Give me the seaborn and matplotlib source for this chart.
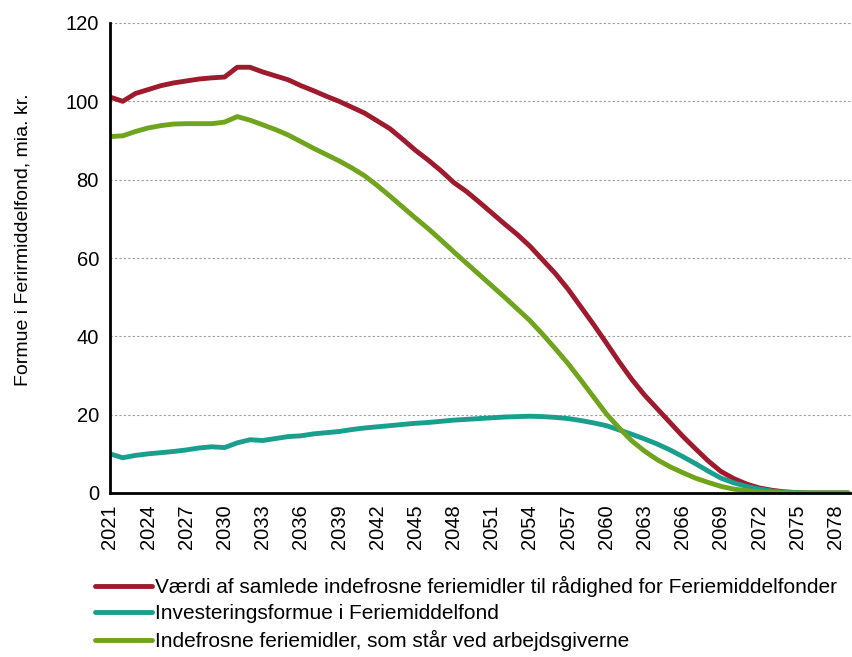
import matplotlib
matplotlib.use("Agg")
import matplotlib.pyplot as plt
import numpy as np
import pandas as pd
import seaborn as sns

# ------------------------------------------------------------------
# Data, mia. kr.
# ------------------------------------------------------------------
years = list(range(2021, 2080))

vaerdi_samlet = [
    101.1, 100.0, 102.0, 103.0, 104.0, 104.7, 105.2, 105.7, 106.0, 106.2,
    108.7, 108.7, 107.5, 106.5, 105.5, 104.0, 102.7, 101.3, 100.0, 98.5,
    97.0, 95.0, 93.0, 90.3, 87.5, 85.0, 82.3, 79.3, 77.0, 74.3,
    71.5, 68.7, 66.0, 63.0, 59.5, 56.0, 52.0, 47.5, 43.0, 38.3,
    33.5, 29.0, 25.0, 21.5, 18.0, 14.5, 11.3, 8.2, 5.5, 3.7,
    2.3, 1.3, 0.7, 0.3, 0.1, 0.0, 0.0, 0.0, 0.0,
]

investeringsformue = [
    10.0, 9.0, 9.6, 10.0, 10.3, 10.6, 11.0, 11.5, 11.8, 11.6,
    12.8, 13.6, 13.4, 13.9, 14.4, 14.6, 15.1, 15.4, 15.7, 16.2,
    16.6, 16.9, 17.2, 17.5, 17.8, 18.0, 18.3, 18.6, 18.8, 19.0,
    19.2, 19.4, 19.5, 19.6, 19.5, 19.3, 19.0, 18.5, 17.9, 17.2,
    16.1, 15.0, 13.8, 12.5, 11.0, 9.3, 7.5, 5.6, 3.8, 2.6,
    1.7, 1.0, 0.5, 0.2, 0.1, 0.0, 0.0, 0.0, 0.0,
]

ved_arbejdsgiverne = [
    91.0, 91.2, 92.3, 93.2, 93.8, 94.2, 94.3, 94.3, 94.3, 94.7,
    96.1, 95.2, 94.0, 92.8, 91.4, 89.7, 88.0, 86.4, 84.8, 83.0,
    81.0, 78.5, 75.8, 73.0, 70.2, 67.5, 64.6, 61.6, 58.7, 55.8,
    52.9, 50.0, 47.0, 44.0, 40.5, 36.8, 33.0, 28.8, 24.5, 20.2,
    16.6, 13.3, 10.7, 8.5, 6.7, 5.2, 3.8, 2.7, 1.7, 1.0,
    0.6, 0.3, 0.15, 0.05, 0.0, 0.0, 0.0, 0.0, 0.0,
]

series_names = [
    "Værdi af samlede indefrosne feriemidler til rådighed for Feriemiddelfonder",
    "Investeringsformue i Feriemiddelfond",
    "Indefrosne feriemidler, som står ved arbejdsgiverne",
]
colors = ["#9E1A2C", "#1A9E8E", "#6FA41C"]

df = pd.DataFrame({
    "år": years * 3,
    "mia": vaerdi_samlet + investeringsformue + ved_arbejdsgiverne,
    "serie": [series_names[0]] * len(years)
    + [series_names[1]] * len(years)
    + [series_names[2]] * len(years),
})

# ------------------------------------------------------------------
# Plot
# ------------------------------------------------------------------
sns.set_style("white")
plt.rcParams["font.family"] = ["Liberation Sans", "DejaVu Sans"]
plt.rcParams["text.color"] = "black"
plt.rcParams["axes.labelcolor"] = "black"
plt.rcParams["xtick.color"] = "black"
plt.rcParams["ytick.color"] = "black"

fig = plt.figure(figsize=(8.52, 6.57), dpi=100)
ax = fig.add_axes([110 / 852, 1 - 493 / 657, (852 - 110) / 852, (493 - 23) / 657])

sns.lineplot(
    data=df, x="år", y="mia", hue="serie", hue_order=series_names,
    palette=colors, linewidth=3.5, ax=ax, legend=True,
)

ax.set_xlim(2021, 2079.3)
ax.set_ylim(0, 120)
ax.set_yticks(np.arange(0, 121, 20))
ax.set_xticks(np.arange(2021, 2079, 3))
ax.tick_params(axis="x", labelrotation=90, labelsize=14.5, length=5, width=1.2,
               direction="out", pad=3)
ax.tick_params(axis="y", labelsize=14.5, length=5, width=1.2, direction="out",
               pad=3)
ax.yaxis.grid(True, linestyle=(0, (2, 2)), color="#9a9a9a", linewidth=0.8)
ax.xaxis.grid(False)

for side in ["top", "right"]:
    ax.spines[side].set_visible(False)
for side in ["left", "bottom"]:
    ax.spines[side].set_linewidth(2)
    ax.spines[side].set_color("black")

ax.set_xlabel("")
ax.set_ylabel("Formue i Ferirmiddelfond, mia. kr.", fontsize=14)
ax.yaxis.set_label_coords(-78 / 742, 0.538)

handles, labels = ax.get_legend_handles_labels()
ax.legend_.remove()
fig.legend(
    handles, labels, loc="upper left", bbox_to_anchor=(87 / 852, 1 - 568 / 657),
    frameon=False, fontsize=15, handlelength=2.7, handletextpad=0.15,
    labelspacing=0.32, borderaxespad=0,
)

fig.savefig("out.png", dpi=100)
